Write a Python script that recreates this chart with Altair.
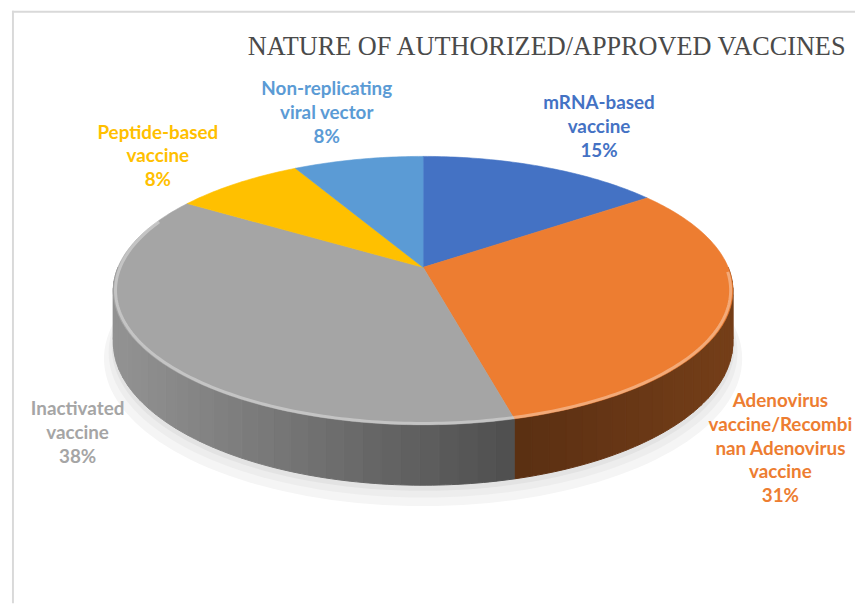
import math
import altair as alt
import pandas as pd

# ---------------- data ----------------
title_text = "NATURE OF AUTHORIZED/APPROVED VACCINES"
categories = [
    "mRNA-based vaccine",
    "Adenovirus vaccine/Recombinan Adenovirus vaccine",
    "Inactivated vaccine",
    "Peptide-based vaccine",
    "Non-replicating viral vector",
]
values = [15, 31, 38, 8, 8]
label_lines = [
    ["mRNA-based", "vaccine"],
    ["Adenovirus", "vaccine/Recombi", "nan Adenovirus", "vaccine"],
    ["Inactivated", "vaccine"],
    ["Peptide-based", "vaccine"],
    ["Non-replicating", "viral vector"],
]

# ---------------- styles ----------------
top_colors = ["#4472C4", "#ED7D31", "#A5A5A5", "#FFC000", "#5B9BD5"]
# wall shading: colour at the left end, colour at the right end
side_colors = {
    categories[0]: ((43, 74, 128), (34, 57, 95)),
    categories[1]: ((90, 47, 18), (116, 62, 24)),
    categories[2]: ((146, 146, 146), (78, 78, 78)),
    categories[3]: ((166, 124, 0), (128, 95, 0)),
    categories[4]: ((59, 101, 144), (46, 80, 112)),
}
FONT = "Lato"
FS = 19
LH = 24

# geometry of the 3-D disc (page pixels)
CX, CY = 427.0, 267.0      # centre of top face
RX, RY = 308.0, 131.4      # radii (unit -> pixels)
K = 0.173                  # perspective strength
T = 0.384                  # thickness (in RY units)
W, H = 855, 598
U_MIN, U_MAX = (8 - CX) / RX, (8 + W - CX) / RX
V_MIN, V_MAX = (8 - CY) / RY, (8 + H - CY) / RY


def proj(theta_deg, r=1.0):
    th = math.radians(theta_deg)
    z = -math.cos(th) * r
    s = 1.0 / (1.0 - K * z)
    return math.sin(th) * r * s, z * s, s


total = sum(values)
starts, ends = [], []
acc = 0.0
for v in values:
    starts.append(acc / total * 360.0)
    acc += v
    ends.append(acc / total * 360.0)


def arc_pts(a, b, step=1.0):
    n = max(2, int(math.ceil((b - a) / step)) + 1)
    return [a + (b - a) * i / (n - 1) for i in range(n)]


def hexcol(c):
    return "#%02x%02x%02x" % tuple(int(round(x)) for x in c)


# top faces
top_rows = []
for cat, a, b in zip(categories, starts, ends):
    pts = [(0.0, 0.0)] + [proj(t)[:2] for t in arc_pts(a, b)] + [(0.0, 0.0)]
    for i, (u, v) in enumerate(pts):
        top_rows.append({"cat": cat, "i": i, "u": u, "v": v})
top_df = pd.DataFrame(top_rows)

# side walls (front half only), split in narrow shaded strips
side_rows = []
seg = 0
for cat, a, b in zip(categories, starts, ends):
    lo, hi = max(a, 90.0), min(b, 270.0)
    if lo >= hi:
        continue
    ulo = min(proj(lo)[0], proj(hi)[0])
    uhi = max(proj(lo)[0], proj(hi)[0])
    cl, cr = side_colors[cat]
    edges = arc_pts(lo, hi, 3.0)
    for t0, t1 in zip(edges[:-1], edges[1:]):
        ts = arc_pts(t0, t1, 1.0)
        pts = [proj(t)[:2] for t in ts]
        pts += [(proj(t)[0], proj(t)[1] + T * proj(t)[2]) for t in reversed(ts)]
        pts.append(pts[0])
        um = (proj(t0)[0] + proj(t1)[0]) / 2
        f = (um - ulo) / (uhi - ulo) if uhi > ulo else 0.5
        col = hexcol([cl[k] + (cr[k] - cl[k]) * f for k in range(3)])
        for i, (u, v) in enumerate(pts):
            side_rows.append({"seg": seg, "i": i, "u": u, "v": v, "col": col})
        seg += 1
side_df = pd.DataFrame(side_rows)

# soft shadow below the disc
shadow_rows = []
for j, (grow, drop, col) in enumerate([(1.03, 0.11, "#f5f5f5"), (1.015, 0.07, "#ededed"), (1.005, 0.035, "#e3e3e3")]):
    for i, t in enumerate(arc_pts(0, 360, 2)):
        u, v, s = proj(t)
        shadow_rows.append({"sh": j, "i": i, "u": u * grow, "v": (v + T * s) * grow + drop, "col": col})
shadow_df = pd.DataFrame(shadow_rows)

# bevel highlight on the front edge of the top face
rim_rows = []
for i, t in enumerate(arc_pts(92, 292, 1)):
    u, v, s = proj(t, 0.993)
    rim_rows.append({"i": i, "u": u, "v": v})
rim_df = pd.DataFrame(rim_rows)

# labels: placed outside the slice, along its mid angle (first-line anchor)
lab_rows = []
for cat, lines, val, a, b in zip(categories, label_lines, values, starts, ends):
    mid = math.radians((a + b) / 2)
    sn, cs = math.sin(mid), math.cos(mid)
    n = len(lines) + 1
    half_h = n * LH / 2 / RY
    if cs < 0:   # label in front of the disc: below the wall
        u = sn * (1.034 + 0.622 * (-cs))
        v_center = 0.253 * (-cs) + T + half_h + 0.466
    else:        # label behind the disc: above the top face
        u = sn * 1.27
        v_center = -1.396 * cs + 0.44 - half_h
    v_first = v_center - (n - 1) * LH / 2 / RY
    txt = "\n".join(lines + [f"{round(val / total * 100)}%"])
    lab_rows.append({"cat": cat, "u": u, "v": v_first, "txt": txt})
lab_df = pd.DataFrame(lab_rows)

xs = alt.X("u:Q", scale=alt.Scale(domain=[U_MIN, U_MAX], nice=False, zero=False), axis=None)
ys = alt.Y("v:Q", scale=alt.Scale(domain=[V_MIN, V_MAX], reverse=True, nice=False, zero=False), axis=None)
color_scale = alt.Scale(domain=categories, range=top_colors)

shadow = alt.Chart(shadow_df).mark_line(filled=True, strokeWidth=0).encode(
    x=xs, y=ys,
    fill=alt.Fill("col:N", scale=None),
    detail="sh:N",
    order=alt.Order("i:Q"),
)

sides = alt.Chart(side_df).mark_line(filled=True, strokeWidth=1).encode(
    x=xs, y=ys,
    fill=alt.Fill("col:N", scale=None),
    stroke=alt.Stroke("col:N", scale=None),
    detail="seg:N",
    order=alt.Order("i:Q"),
)

tops = alt.Chart(top_df).mark_line(filled=True, strokeWidth=0.6).encode(
    x=xs, y=ys,
    fill=alt.Fill("cat:N", scale=color_scale, legend=None),
    stroke=alt.Stroke("cat:N", scale=color_scale, legend=None),
    detail="cat:N",
    order=alt.Order("i:Q"),
)

rim = alt.Chart(rim_df).mark_line(color="#ffffff", strokeWidth=3, opacity=0.35).encode(
    x=xs, y=ys, order=alt.Order("i:Q")
)

labels = alt.Chart(lab_df).mark_text(
    font=FONT, fontSize=FS, fontWeight="bold", lineBreak="\n", lineHeight=LH,
    align="center", baseline="middle",
).encode(
    x=xs, y=ys, text="txt:N",
    color=alt.Color("cat:N", scale=color_scale, legend=None),
)

one = pd.DataFrame({"t": [title_text]})
title = alt.Chart(one).mark_text(
    font="Liberation Serif", fontSize=26.5, color="#4a4a4a", align="left", baseline="alphabetic"
).encode(x=alt.value(242), y=alt.value(45), text="t:N")

frame_top = alt.Chart(one).mark_rule(color="#d9d9d9", strokeWidth=2).encode(
    x=alt.value(4), x2=alt.value(W), y=alt.value(1)
)
frame_left = alt.Chart(one).mark_rule(color="#d9d9d9", strokeWidth=2).encode(
    x=alt.value(5), y=alt.value(0), y2=alt.value(H)
)

chart = alt.layer(
    shadow, sides, tops, rim, labels, title, frame_top, frame_left
).properties(
    width=W, height=H, padding=0, autosize=alt.AutoSizeParams(type="none"),
    background="white",
).configure_view(stroke=None)

chart.save("out.html", embed_options={"renderer": "svg", "actions": False})
